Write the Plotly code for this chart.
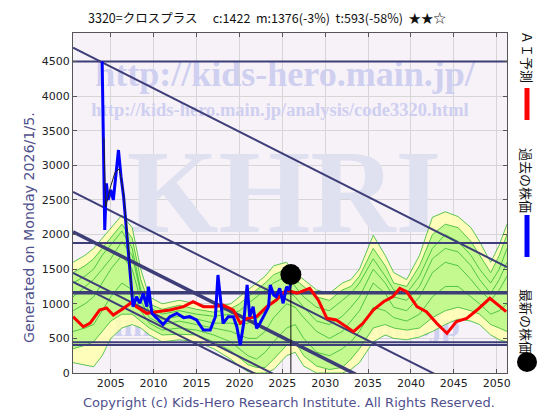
import plotly.graph_objects as go

# ---------------- data ----------------
title_text = "3320=クロスプラス　 c:1422  m:1376(-3%)  t:593(-58%)  ★★☆"
ytitle_text = "Generated on Monday 2026/1/5."
copyright_text = "Copyright (c) Kids-Hero Research Institute. All Rights Reserved."
legend_labels = ["ＡＩ予測", "過去の株価", "最新の株価"]

x_ticks = [2005, 2010, 2015, 2020, 2025, 2030, 2035, 2040, 2045, 2050]
y_ticks = [0, 500, 1000, 1500, 2000, 2500, 3000, 3500, 4000, 4500]

band_years = [2000.6, 2002, 2003, 2004, 2005, 2006.3, 2007.5, 2008.5, 2009.5, 2011,
              2013, 2015, 2017, 2019, 2020, 2021, 2022, 2023, 2024, 2025.5,
              2026.5, 2027.5, 2029, 2030.5, 2032, 2033, 2034, 2035.6, 2037, 2038,
              2039.5, 2041, 2042.5, 2044, 2045.5, 2047, 2048, 2049.3, 2050.3, 2051.2]
env_upper = [1600, 1700, 1800, 1950, 2100, 2280, 2100, 1500, 1100, 1000,
             1050, 1000, 950, 1000, 1100, 1200, 1300, 1400, 1550, 1600,
             1450, 1350, 1200, 1150, 1300, 1350, 1500, 1990, 1700, 1450,
             1350, 1700, 2250, 2330, 2260, 2100, 1900, 1600, 1850, 2150]
env_lower = [150, 120, 90, 250, 500, 650, 700, 650, 550, 450,
             480, 450, 350, 200, 100, 20, 0, 0, 50, 250,
             300, 100, 0, 0, 0, 50, 150, 450, 550, 500,
             480, 520, 600, 700, 780, 750, 700, 550, 480, 450]
green_upper = [1450, 1550, 1650, 1800, 1950, 2150, 1950, 1350, 1000, 920,
               980, 920, 880, 930, 1000, 1100, 1200, 1300, 1420, 1500,
               1350, 1250, 1100, 1050, 1200, 1250, 1400, 1800, 1550, 1300,
               1250, 1550, 2000, 2150, 2100, 1900, 1700, 1450, 1700, 2000]
green_lower = [350, 400, 450, 600, 750, 850, 850, 750, 650, 550,
               560, 550, 450, 320, 220, 120, 80, 80, 200, 400,
               450, 250, 100, 50, 80, 200, 350, 650, 700, 650,
               620, 650, 800, 900, 950, 900, 850, 700, 650, 600]
green_line1 = [1300, 1400, 1500, 1700, 1850, 2050, 1800, 1200, 950, 850,
               900, 850, 820, 850, 900, 1000, 1100, 1200, 1300, 1400,
               1250, 1100, 950, 900, 1050, 1150, 1300, 1650, 1400, 1200,
               1150, 1400, 1800, 2000, 1900, 1700, 1500, 1300, 1500, 1800]
green_line2 = [900, 1000, 1100, 1300, 1500, 1700, 1500, 1050, 800, 700,
               750, 700, 650, 600, 550, 500, 500, 600, 800, 1000,
               950, 800, 600, 500, 600, 750, 900, 1300, 1150, 950,
               900, 1100, 1450, 1600, 1550, 1350, 1200, 1050, 1200, 1400]
green_line3 = [600, 650, 700, 900, 1100, 1300, 1200, 900, 720, 620,
               650, 620, 550, 450, 350, 250, 200, 300, 450, 650,
               700, 500, 300, 250, 350, 450, 600, 950, 900, 800,
               750, 850, 1100, 1250, 1250, 1100, 1000, 850, 900, 1000]
green_line4 = [1100, 1250, 1350, 1500, 1650, 1900, 1700, 1150, 880, 780,
               820, 780, 720, 720, 700, 720, 780, 900, 1050, 1200,
               1100, 950, 750, 700, 820, 950, 1100, 1500, 1300, 1100,
               1050, 1250, 1650, 1800, 1750, 1550, 1350, 1150, 1350, 1600]

red_years = [2000.6, 2001.8, 2002.6, 2003.7, 2004.5, 2005.3, 2006.5, 2007.4, 2008.0, 2009.2,
             2010.4, 2011.9, 2013.5, 2014.6, 2015.8, 2017.0, 2018.1, 2019.3, 2020.1, 2020.9,
             2022.0, 2023.2, 2024.3, 2025.5, 2026.7, 2028.2, 2029.2, 2030.2, 2031.3, 2032.5,
             2033.3, 2034.4, 2035.6, 2036.8, 2037.9, 2038.7, 2039.5, 2040.7, 2041.8, 2043.0,
             2044.2, 2045.3, 2046.5, 2047.7, 2049.2, 2050.4, 2051.1]
red_values = [814, 669, 722, 910, 939, 838, 935, 1016, 958, 862,
              886, 910, 958, 1030, 958, 958, 982, 910, 718, 790,
              814, 958, 1055, 1199, 1152, 1224, 1055, 790, 766, 669,
              597, 718, 910, 1030, 1103, 1224, 1175, 958, 886, 718,
              573, 742, 790, 910, 1079, 958, 886]

blue_years = [2004.0, 2004.1, 2004.3, 2004.5, 2004.7, 2005.0, 2005.3, 2005.7, 2005.9, 2006.2,
              2006.5, 2006.7, 2006.9, 2007.2, 2007.4, 2007.6, 2008.0, 2008.4, 2008.8, 2009.2,
              2009.4, 2009.8, 2010.4, 2011.1, 2011.9, 2012.7, 2013.5, 2014.2, 2015.0, 2015.8,
              2016.6, 2017.2, 2017.5, 2017.8, 2018.1, 2018.7, 2019.3, 2019.7, 2020.1, 2020.5,
              2020.9, 2021.2, 2021.6, 2022.0, 2022.4, 2023.0, 2023.4, 2023.6, 2024.0, 2024.3,
              2024.7, 2025.1, 2025.5, 2025.8, 2026.0]
blue_values = [4500, 3415, 2066, 2741, 2500, 2645, 2500, 2981, 3222, 2837,
               2548, 2259, 1970, 1536, 1199, 958, 1103, 1007, 1152, 958,
               1247, 862, 790, 700, 814, 862, 800, 814, 766, 621,
               621, 814, 1416, 1007, 718, 814, 814, 669, 405, 718,
               1272, 814, 958, 645, 718, 862, 958, 1272, 1127, 1103,
               1224, 1007, 1247, 1199, 1300]

black_years = [2004.2, 2004.4, 2005.0, 2005.5, 2006.0, 2006.5, 2007.0, 2007.5]
black_values = [3400, 2400, 2700, 2900, 2950, 2600, 1900, 1100]

latest_year = [2026.0]
latest_value = [1422]

hline_values = [4500, 1880, 1160, 445, 405]
hline_widths = [2, 2, 3.5, 2, 2]

trend_start_year = [2000.6, 2000.6, 2000.6, 2000.6, 2000.6]
trend_start_value = [4700, 2616, 2040, 1445, 1315]
trend_end_year = [2051.2, 2051.2, 2051.2, 2051.2, 2051.2]
trend_end_value = [1530, -540, -1120, -1715, -1845]
trend_widths = [2, 2, 3.5, 2, 2]

# ---------------- layout geometry ----------------
# the page body has an 8px default margin; positions below are page pixels
OFF = 8
W, H = 560 - OFF, 420 - OFF
PL, PR, PT, PB = 73, 507, 33, 373
XR = [2000.6, 2051.2]
YR = [0, 4913]


def px_to_x(px):
    return XR[0] + (px - PL) / (PR - PL) * (XR[1] - XR[0])


def py_to_y(py):
    return YR[0] + (PB - py) / (PB - PT) * (YR[1] - YR[0])


def px_paper(px):
    return (px - PL) / (PR - PL)


def py_paper(py):
    return (PB - py) / (PB - PT)


NAVY = "#3d3d78"
GREEN = "#33b833"
fig = go.Figure()

# watermarks (under data)
wm = [
    ("http://kids-hero.main.jp/", 285, 77, 36, "#cfcff0", "Liberation Serif"),
    ("http://kids-hero.main.jp/analysis/code3320.html", 280, 111, 18.5, "#cfcff0", "Liberation Serif"),
    ("KHRI", 284, 202, 118, "#dfe0f0", "Liberation Serif"),
    ("info@kids-hero.main.jp", 287, 327, 34, "#cfcff0", "Liberation Serif"),
]
for t, cx, cy, fs, col, fam in wm:
    fig.add_trace(go.Scatter(x=[px_to_x(cx)], y=[py_to_y(cy)], mode="text", text=["<b>" + t + "</b>"],
                             textfont=dict(size=fs, color=col, family=fam),
                             hoverinfo="skip", showlegend=False, cliponaxis=False))

# envelope (yellow)
fig.add_trace(go.Scatter(x=band_years, y=env_lower, mode="lines", line=dict(color=GREEN, width=0.8),
                         showlegend=False))
fig.add_trace(go.Scatter(x=band_years, y=env_upper, mode="lines", line=dict(color=GREEN, width=0.8),
                         fill="tonexty", fillcolor="rgba(255,255,175,0.85)", showlegend=False))
# inner green band
fig.add_trace(go.Scatter(x=band_years, y=green_lower, mode="lines", line=dict(color=GREEN, width=0.8),
                         showlegend=False))
fig.add_trace(go.Scatter(x=band_years, y=green_upper, mode="lines", line=dict(color=GREEN, width=0.8),
                         fill="tonexty", fillcolor="rgba(185,248,135,0.85)", showlegend=False))
for gl in (green_line1, green_line2, green_line3, green_line4):
    fig.add_trace(go.Scatter(x=band_years, y=gl, mode="lines", line=dict(color=GREEN, width=0.8),
                             showlegend=False))

# horizontal support lines
for v, w in zip(hline_values, hline_widths):
    fig.add_trace(go.Scatter(x=XR, y=[v, v], mode="lines", line=dict(color=NAVY, width=w),
                             showlegend=False))
# trend lines
for x0, y0, x1, y1, w in zip(trend_start_year, trend_start_value, trend_end_year, trend_end_value, trend_widths):
    fig.add_trace(go.Scatter(x=[x0, x1], y=[y0, y1], mode="lines", line=dict(color=NAVY, width=w),
                             showlegend=False))

# AI prediction
fig.add_trace(go.Scatter(x=red_years, y=red_values, mode="lines", line=dict(color="#ff0000", width=3),
                         showlegend=False))
# past price
fig.add_trace(go.Scatter(x=blue_years, y=blue_values, mode="lines", line=dict(color="#0000ff", width=3),
                         showlegend=False))
fig.add_trace(go.Scatter(x=black_years, y=black_values, mode="lines", line=dict(color="#222222", width=1),
                         showlegend=False))
# latest price marker + vertical
fig.add_trace(go.Scatter(x=[latest_year[0], latest_year[0]], y=[0, latest_value[0]], mode="lines",
                         line=dict(color="#111111", width=1), showlegend=False))
fig.add_trace(go.Scatter(x=latest_year, y=latest_value, mode="markers",
                         marker=dict(color="black", size=21), showlegend=False))

annotations = [
    dict(text=title_text, x=px_paper(267), y=py_paper(18), xref="paper", yref="paper", showarrow=False,
         font=dict(size=12.5, color="#111111", family="Noto Sans CJK JP"), xanchor="center", yanchor="middle"),
    dict(text=ytitle_text, x=px_paper(29), y=py_paper(228), xref="paper", yref="paper", showarrow=False,
         textangle=-90, font=dict(size=14.2, color="#50508c", family="DejaVu Sans"), xanchor="center", yanchor="middle"),
    dict(text=copyright_text, x=px_paper(289), y=py_paper(403), xref="paper", yref="paper", showarrow=False,
         font=dict(size=13, color="#50508c", family="DejaVu Sans"), xanchor="center", yanchor="middle"),
]
leg_pos = [(527, 57), (527, 180), (527, 321)]
for lab, (lx, ly) in zip(legend_labels, leg_pos):
    annotations.append(dict(text=lab, x=px_paper(lx), y=py_paper(ly), xref="paper", yref="paper",
                            showarrow=False, textangle=90,
                            font=dict(size=13, color="#111111", family="Noto Sans CJK JP"),
                            xanchor="center", yanchor="middle"))

shapes = [
    dict(type="line", xref="paper", yref="paper", x0=px_paper(527), x1=px_paper(527),
         y0=py_paper(88), y1=py_paper(120), line=dict(color="#ff0000", width=5)),
    dict(type="line", xref="paper", yref="paper", x0=px_paper(527), x1=px_paper(527),
         y0=py_paper(215), y1=py_paper(257), line=dict(color="#0000ff", width=5)),
    dict(type="circle", xref="paper", yref="paper", x0=px_paper(517), x1=px_paper(537),
         y0=py_paper(352), y1=py_paper(372), fillcolor="black", line=dict(color="black", width=0)),
]

fig.update_layout(
    width=W, height=H,
    margin=dict(l=PL - OFF, r=560 - PR, t=PT - OFF, b=420 - PB, pad=0),
    paper_bgcolor="white", plot_bgcolor="#f7f2f8",
    showlegend=False,
    annotations=annotations, shapes=shapes,
    xaxis=dict(range=XR, tickvals=x_ticks, ticktext=[str(v) for v in x_ticks], showgrid=True,
               gridcolor="#d6d6d6", gridwidth=1, zeroline=False, showline=True, linecolor="#555555",
               mirror="ticks", ticks="inside", ticklen=4, tickcolor="#555555",
               tickfont=dict(size=11, color="#222222", family="DejaVu Sans"), automargin=False),
    yaxis=dict(range=YR, tickvals=y_ticks, ticktext=[str(v) for v in y_ticks], showgrid=True,
               gridcolor="#d6d6d6", gridwidth=1, zeroline=False, showline=True, linecolor="#555555",
               mirror="ticks", ticks="inside", ticklen=4, tickcolor="#555555",
               tickfont=dict(size=11, color="#222222", family="DejaVu Sans"), automargin=False),
)

fig.write_html("out.html")
